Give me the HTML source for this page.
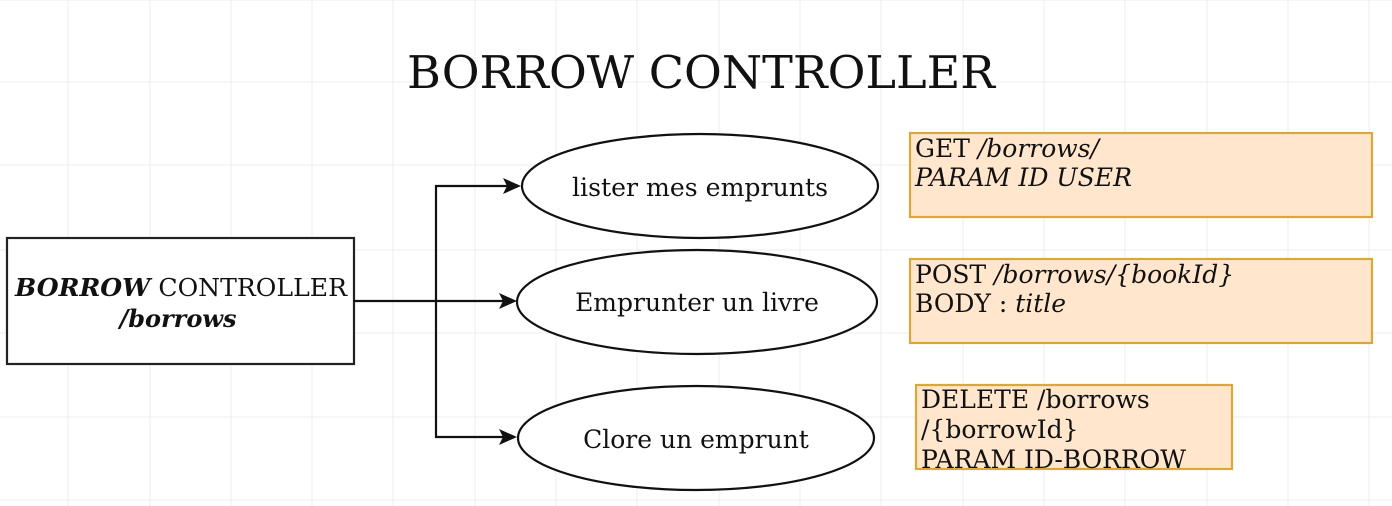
<!DOCTYPE html>
<html><head><meta charset="utf-8"><style>
html,body{margin:0;padding:0;background:#fff;}
svg{display:block;}
text{font-family:"DejaVu Serif","Liberation Serif",serif;fill:#111;}
</style></head><body>
<svg width="1392" height="506" viewBox="0 0 1392 506" xmlns="http://www.w3.org/2000/svg">
<rect width="1392" height="506" fill="#fff"/>
<g stroke="#ececec" stroke-width="1">
<line x1="68" y1="0" x2="68" y2="506"/><line x1="150" y1="0" x2="150" y2="506"/><line x1="231" y1="0" x2="231" y2="506"/><line x1="312" y1="0" x2="312" y2="506"/><line x1="393" y1="0" x2="393" y2="506"/><line x1="475" y1="0" x2="475" y2="506"/><line x1="556" y1="0" x2="556" y2="506"/><line x1="637" y1="0" x2="637" y2="506"/><line x1="719" y1="0" x2="719" y2="506"/><line x1="800" y1="0" x2="800" y2="506"/><line x1="881" y1="0" x2="881" y2="506"/><line x1="963" y1="0" x2="963" y2="506"/><line x1="1044" y1="0" x2="1044" y2="506"/><line x1="1125" y1="0" x2="1125" y2="506"/><line x1="1207" y1="0" x2="1207" y2="506"/><line x1="1288" y1="0" x2="1288" y2="506"/><line x1="1369" y1="0" x2="1369" y2="506"/>
<line x1="0" y1="0" x2="1392" y2="0"/><line x1="0" y1="82" x2="1392" y2="82"/><line x1="0" y1="165" x2="1392" y2="165"/><line x1="0" y1="250" x2="1392" y2="250"/><line x1="0" y1="333" x2="1392" y2="333"/><line x1="0" y1="417" x2="1392" y2="417"/><line x1="0" y1="500" x2="1392" y2="500"/>
</g>
<text x="701" y="88" font-size="45" text-anchor="middle" textLength="588" lengthAdjust="spacingAndGlyphs">BORROW CONTROLLER</text>

<rect x="7" y="238" width="347" height="126" fill="#fff" stroke="#222" stroke-width="2.2"/>
<text x="181" y="296" font-size="24" text-anchor="middle" textLength="332" lengthAdjust="spacingAndGlyphs"><tspan font-weight="bold" font-style="italic">BORROW</tspan> CONTROLLER</text>
<text x="178" y="327" font-size="24" text-anchor="middle" font-weight="bold" font-style="italic">/borrows</text>

<g stroke="#111" stroke-width="2.2" fill="none">
<path d="M354 301 H505"/>
<path d="M436 301 V186 H508"/>
<path d="M436 301 V437 H503"/>
</g>
<g fill="#111">
<path d="M521 186 L503 178 L507 186 L503 194 Z"/>
<path d="M517 301 L499 293 L503 301 L499 309 Z"/>
<path d="M517 437 L499 429 L503 437 L499 445 Z"/>
</g>

<g fill="#fff" stroke="#111" stroke-width="2.2">
<ellipse cx="700" cy="186" rx="178" ry="52"/>
<ellipse cx="697" cy="302" rx="180" ry="52"/>
<ellipse cx="696" cy="438" rx="178" ry="52"/>
</g>
<text x="700" y="196" font-size="25" text-anchor="middle" textLength="256" lengthAdjust="spacingAndGlyphs">lister mes emprunts</text>
<text x="697" y="311" font-size="25" text-anchor="middle">Emprunter un livre</text>
<text x="696" y="448" font-size="25" text-anchor="middle">Clore un emprunt</text>

<g fill="#ffe6cc" stroke="#d9a838" stroke-width="2.2">
<rect x="910" y="133" width="462" height="84"/>
<rect x="910" y="259" width="462" height="84"/>
<rect x="916" y="385" width="316" height="84"/>
</g>
<g font-size="25">
<text x="915" y="157">GET <tspan font-style="italic">/borrows/</tspan></text>
<text x="915" y="186" font-style="italic" textLength="217" lengthAdjust="spacingAndGlyphs">PARAM ID USER</text>
<text x="915" y="283">POST <tspan font-style="italic">/borrows/{bookId}</tspan></text>
<text x="915" y="312">BODY : <tspan font-style="italic">title</tspan></text>
<text x="921" y="408">DELETE /borrows</text>
<text x="921" y="438">/{borrowId}</text>
<text x="921" y="468">PARAM ID-BORROW</text>
</g>
</svg>
</body></html>
